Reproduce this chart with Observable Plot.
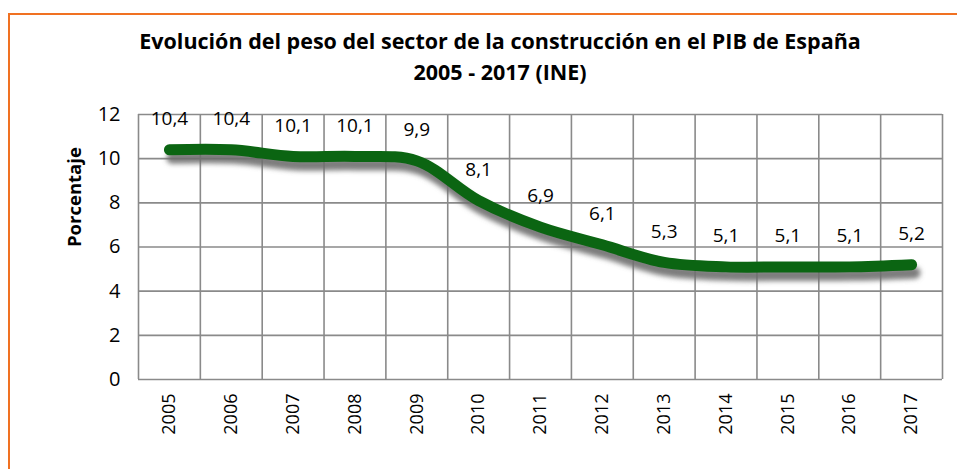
<!DOCTYPE html>
<html>
<head>
<meta charset="utf-8">
<script src="https://cdn.jsdelivr.net/npm/d3@7"></script>
<script src="https://cdn.jsdelivr.net/npm/@observablehq/plot@0.6"></script>
<style>
  html, body { margin: 0; padding: 0; background: #fff; width: 957px; height: 469px; overflow: hidden; }
  body { font-family: "Open Sans", Lato, sans-serif; position: relative; }
  #frame { position: absolute; left: 8px; top: 13px; width: 1000px; height: 500px;
           border-top: 2.5px solid #f07122; border-left: 2.5px solid #f07122; }
  #title { position: absolute; left: 0; top: 25px; width: 1000px; text-align: center;
           font-weight: bold; font-size: 21.5px; line-height: 31px; color: #000; }
  #chart { position: absolute; left: 0; top: 95px; }
</style>
</head>
<body>
<div id="frame"></div>
<div id="title">Evolución del peso del sector de la construcción en el PIB de España<br>2005 - 2017 (INE)</div>
<div id="chart"></div>
<script>
const years = [2005, 2006, 2007, 2008, 2009, 2010, 2011, 2012, 2013, 2014, 2015, 2016, 2017];
const values = [10.4, 10.4, 10.1, 10.1, 9.9, 8.1, 6.9, 6.1, 5.3, 5.1, 5.1, 5.1, 5.2];
const yTicks = [0, 2, 4, 6, 8, 10, 12];
const yLabel = "Porcentaje";

const data = years.map((year, i) => ({year, value: values[i]}));
const fmt = v => String(v).replace(".", ",");
const bandEdges = years.map(y => y - 0.5).concat([years[years.length - 1] + 0.5]);

const font = "'Open Sans', Lato, sans-serif";
const plot = Plot.plot({
  width: 957,
  height: 374,
  marginTop: 19,
  marginBottom: 90,
  marginLeft: 138,
  marginRight: 15,
  style: {fontFamily: font, background: "transparent", color: "#000", overflow: "visible"},
  x: {domain: [bandEdges[0], bandEdges[bandEdges.length - 1]], label: null},
  y: {domain: [0, 12], label: null},
  marks: [
    Plot.ruleX(bandEdges, {stroke: "#8a8a8a", strokeWidth: 1.6, strokeOpacity: 1}),
    Plot.ruleY(yTicks, {stroke: "#8a8a8a", strokeWidth: 1.6, strokeOpacity: 1}),
    Plot.axisX({ticks: years, tickFormat: d => String(d), tickRotate: -90, tickSize: 0, tickPadding: 14,
                fontSize: 18, label: null}),
    Plot.axisY({ticks: yTicks, tickSize: 0, tickPadding: 18, fontSize: 20, label: null}),
    Plot.line(data, {x: "year", y: "value", stroke: "#6e6e6e", strokeWidth: 12, dx: 3, dy: 8,
                     curve: "catmull-rom", strokeLinecap: "round", strokeLinejoin: "round", strokeOpacity: 0.9}),
    Plot.line(data, {x: "year", y: "value", stroke: "#0b6512", strokeWidth: 11,
                     curve: "catmull-rom", strokeLinecap: "round", strokeLinejoin: "round"}),
    Plot.text(data, {x: "year", y: "value", text: d => fmt(d.value), dy: -31, fontSize: 19, fill: "#000"}),
    Plot.text([yLabel], {frameAnchor: "left", text: d => d, rotate: -90, dx: -63, fontWeight: "bold", fontSize: 18.5, fill: "#000"})
  ]
});
document.getElementById("chart").appendChild(plot);

// blur the shadow line
const svg = d3.select(plot);
const defs = svg.insert("defs", ":first-child");
defs.append("filter").attr("id", "shadowBlur").attr("x", "-10%").attr("y", "-20%").attr("width", "120%").attr("height", "140%")
  .append("feGaussianBlur").attr("stdDeviation", 2.5);
const lines = svg.selectAll('g[aria-label="line"]').nodes();
if (lines.length) d3.select(lines[0]).attr("filter", "url(#shadowBlur)");
</script>
</body>
</html>
